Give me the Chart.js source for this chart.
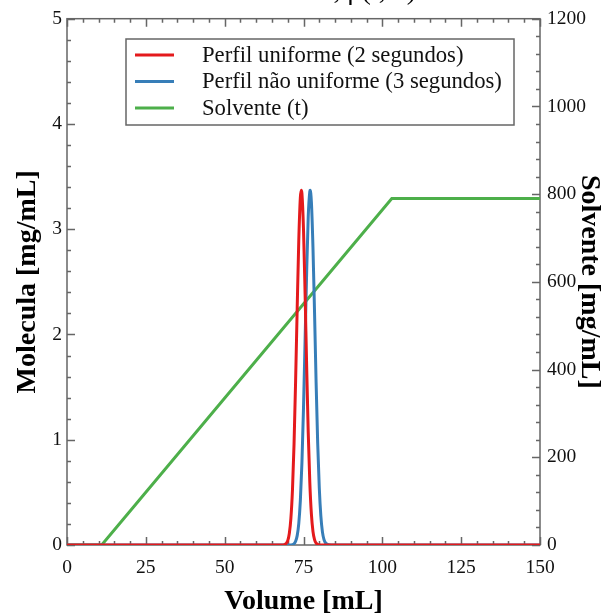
<!DOCTYPE html>
<html>
<head>
<meta charset="utf-8">
<script src="https://cdn.jsdelivr.net/npm/chart.js@4/dist/chart.umd.min.js"></script>
<style>
  html, body { margin: 0; padding: 0; background: #fff; }
  #wrap { width: 603px; height: 615px; position: relative; }
</style>
</head>
<body>
<div id="wrap"><canvas id="c" width="603" height="615"></canvas></div>
<script>
// ---- data ----
const seriesLabels = ['Perfil uniforme (2 segundos)', 'Perfil não uniforme (3 segundos)', 'Solvente (t)'];
const chartTitle = 'Molecula, ρ(t, x)';
const xTitle = 'Volume [mL]';
const yTitle = 'Molecula [mg/mL]';
const y2Title = 'Solvente [mg/mL]';

const redX = [0, 66, 68, 69, 70, 70.5, 71, 71.5, 72, 72.5, 73, 73.5, 74, 74.3, 74.5, 75, 75.5, 76, 76.5, 77, 77.5, 78, 78.5, 79, 80, 82, 150];
const redY = [0, 0, 0, 0.004, 0.041, 0.109, 0.253, 0.523, 0.958, 1.56, 2.25, 2.89, 3.30, 3.37, 3.34, 3.00, 2.39, 1.70, 1.07, 0.595, 0.295, 0.130, 0.051, 0.018, 0.001, 0, 0];

const blueX = [0, 70, 71, 72, 72.5, 73, 73.5, 74, 74.5, 75, 75.5, 76, 76.5, 77, 77.1, 77.5, 78, 78.5, 79, 79.5, 80, 80.5, 81, 81.5, 82, 83, 85, 150];
const blueY = [0, 0, 0.001, 0.012, 0.035, 0.089, 0.204, 0.421, 0.78, 1.30, 1.94, 2.59, 3.12, 3.36, 3.37, 3.26, 2.83, 2.21, 1.54, 0.968, 0.546, 0.276, 0.125, 0.051, 0.019, 0.002, 0, 0];

const solventX = [0, 11, 103, 150];
const solventY = [0, 0, 790, 790];

const xTicks = [0, 25, 50, 75, 100, 125, 150];
const yTicks = [0, 1, 2, 3, 4, 5];
const y2Ticks = [0, 200, 400, 600, 800, 1000, 1200];
const xMinorStep = 5, yMinorStep = 0.2, y2MinorStep = 40;

const colors = ['#e41a1c', '#377eb8', '#4daf4a'];

const pts = (xs, ys) => xs.map((x, i) => ({x, y: ys[i]}));

const SERIF = '"Liberation Serif", "Times New Roman", serif';
const AXIS = '#666';

const framePlugin = {
  id: 'frame',
  beforeDatasetsDraw(chart) {
    const {ctx, chartArea: a, scales} = chart;
    ctx.save();
    ctx.strokeStyle = AXIS;
    ctx.lineWidth = 1.5;
    ctx.beginPath();
    const seg = (x1, y1, x2, y2) => { ctx.moveTo(x1, y1); ctx.lineTo(x2, y2); };
    const isMajor = (v, arr) => arr.some(t => Math.abs(t - v) < 1e-6);
    for (let v = scales.x.min; v <= scales.x.max + 1e-6; v += xMinorStep) {
      const px = Math.round(scales.x.getPixelForValue(v)) + 0.5;
      const L = isMajor(v, xTicks) ? 8 : 4;
      seg(px, a.bottom, px, a.bottom - L);
      seg(px, a.top, px, a.top + L);
    }
    for (let i = 0; i <= Math.round((scales.y.max - scales.y.min) / yMinorStep); i++) {
      const v = scales.y.min + i * yMinorStep;
      const py = Math.round(scales.y.getPixelForValue(v)) + 0.5;
      const L = isMajor(v, yTicks) ? 8 : 4;
      seg(a.left, py, a.left + L, py);
    }
    for (let v = scales.y2.min; v <= scales.y2.max + 1e-6; v += y2MinorStep) {
      const py = Math.round(scales.y2.getPixelForValue(v)) + 0.5;
      const L = isMajor(v, y2Ticks) ? 8 : 4;
      seg(a.right, py, a.right - L, py);
    }
    ctx.stroke();
    ctx.strokeRect(a.left, a.top, a.right - a.left, a.bottom - a.top);
    ctx.restore();
  },
  afterDraw(chart) {
    const {ctx} = chart;
    ctx.save();
    ctx.fillStyle = '#000';
    ctx.font = '28px ' + SERIF;
    ctx.textAlign = 'right';
    ctx.textBaseline = 'alphabetic';
    ctx.fillText(chartTitle, 416, -1);
    const bx = 126, by = 39, bw = 388, bh = 86;
    ctx.fillStyle = '#fff';
    ctx.fillRect(bx, by, bw, bh);
    ctx.strokeStyle = AXIS;
    ctx.lineWidth = 1.5;
    ctx.strokeRect(bx, by, bw, bh);
    const rows = [55, 81.5, 108];
    ctx.font = '22.7px ' + SERIF;
    ctx.textAlign = 'left';
    ctx.textBaseline = 'middle';
    chart.data.datasets.forEach((ds, i) => {
      ctx.strokeStyle = ds.borderColor;
      ctx.lineWidth = 3;
      ctx.beginPath();
      ctx.moveTo(135, rows[i]);
      ctx.lineTo(174, rows[i]);
      ctx.stroke();
      ctx.fillStyle = '#111';
      ctx.fillText(ds.label, 202, rows[i] + 1);
    });
    ctx.restore();
  }
};

const plain = v => String(v);

new Chart(document.getElementById('c'), {
  type: 'line',
  data: {
    datasets: [
      { label: seriesLabels[0], data: pts(redX, redY), borderColor: colors[0], backgroundColor: colors[0],
        borderWidth: 3, pointRadius: 0, cubicInterpolationMode: 'monotone', yAxisID: 'y', order: 1 },
      { label: seriesLabels[1], data: pts(blueX, blueY), borderColor: colors[1], backgroundColor: colors[1],
        borderWidth: 3, pointRadius: 0, cubicInterpolationMode: 'monotone', yAxisID: 'y', order: 2 },
      { label: seriesLabels[2], data: pts(solventX, solventY), borderColor: colors[2], backgroundColor: colors[2],
        borderWidth: 3, pointRadius: 0, tension: 0, yAxisID: 'y2', order: 3 }
    ]
  },
  options: {
    responsive: false,
    animation: false,
    devicePixelRatio: 1,
    layout: { padding: { top: 13, left: 0, right: 0, bottom: 0 } },
    plugins: { legend: { display: false }, tooltip: { enabled: false }, title: { display: false } },
    scales: {
      x: {
        type: 'linear', position: 'bottom', min: 0, max: 150,
        afterBuildTicks: s => { s.ticks = xTicks.map(v => ({value: v})); },
        afterFit: s => { s.height = 70; },
        grid: { display: false, drawTicks: false },
        border: { display: false },
        ticks: { autoSkip: false, maxRotation: 0, padding: 11, color: '#111', callback: plain, font: { family: SERIF, size: 19.5 } },
        title: { display: true, text: xTitle, color: '#000', font: { family: SERIF, size: 28, weight: 'bold', lineHeight: 0.93 }, padding: 0 }
      },
      y: {
        type: 'linear', position: 'left', min: 0, max: 5,
        afterBuildTicks: s => { s.ticks = yTicks.map(v => ({value: v})); },
        afterFit: s => { s.width = 67; },
        grid: { display: false, drawTicks: false },
        border: { display: false },
        ticks: { padding: 5, color: '#111', callback: plain, font: { family: SERIF, size: 19.5 } },
        title: { display: true, text: yTitle, color: '#000', font: { family: SERIF, size: 28, weight: 'bold', lineHeight: 1 }, padding: { top: 14, bottom: 0 } }
      },
      y2: {
        type: 'linear', position: 'right', min: 0, max: 1200,
        afterBuildTicks: s => { s.ticks = y2Ticks.map(v => ({value: v})); },
        afterFit: s => { s.width = 63; },
        grid: { display: false, drawTicks: false },
        border: { display: false },
        ticks: { padding: 7, color: '#111', callback: plain, font: { family: SERIF, size: 19.5 } },
        title: { display: true, text: y2Title, color: '#000', font: { family: SERIF, size: 28, weight: 'bold', lineHeight: 1 }, padding: 0 }
      }
    }
  },
  plugins: [framePlugin]
});
</script>
</body>
</html>
